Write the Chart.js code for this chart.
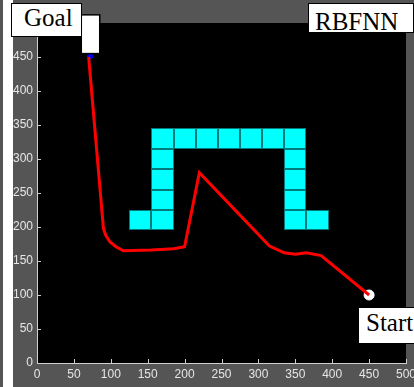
<!DOCTYPE html>
<html>
<head>
<meta charset="utf-8">
<title>RBFNN path</title>
<script src="https://cdn.jsdelivr.net/npm/chart.js@4/dist/chart.umd.min.js"></script>
<style>
  html, body { margin: 0; padding: 0; }
  body {
    width: 414px; height: 387px; overflow: hidden;
    background: linear-gradient(to right, #555 0 3px, #fff 3px 13px, #555 13px);
  }
  #wrap { position: relative; width: 414px; height: 387px; }
  #wrap canvas { position: absolute; left: 0; top: 0; }
  .tag {
    position: absolute; box-sizing: border-box;
    background: #fff; border: 1px solid #000; color: #000;
    font-family: "Liberation Serif", "Times New Roman", serif;
    font-size: 25px; line-height: 1; white-space: nowrap; overflow: hidden;
  }
</style>
</head>
<body>
<div id="wrap">
  <canvas id="pathChart" width="414" height="387"></canvas>
  <div class="tag" style="left:11px; top:3px; width:71px; height:34px; padding:1px 0 0 12px;">Goal</div>
  <div class="tag" style="left:308px; top:3px; width:106px; height:30px; padding:5px 0 0 6px;">RBFNN</div>
  <div class="tag" style="left:358px; top:307px; width:60px; height:37px; padding:2px 0 0 7px;">Start</div>
</div>

<script>
// robot path found by the network, start -> goal
const pathX = [450, 385, 365, 350, 335, 315, 220, 200, 185, 155, 117, 107, 99, 93, 90, 70];
const pathY = [100, 158, 162, 160, 162, 172, 280, 171, 168, 166, 165, 171, 178, 188, 198, 450];

const startPoint = [450, 100];
const goalPoint = [72, 451];

// goal flag rectangle: x from/to, y from/to
const goalFlagX = [60, 85];
const goalFlagY = [455, 512];

// obstacle cells (lower-left corners)
const tileX = [155, 185, 215, 245, 275, 305, 335, 155, 155, 155, 155, 335, 335, 335, 335, 125, 365];
const tileY = [315, 315, 315, 315, 315, 315, 315, 285, 255, 225, 195, 285, 255, 225, 195, 195, 195];
const tileSize = 30;

const xTickValues = [0, 50, 100, 150, 200, 250, 300, 350, 400, 450, 500];
const yTickValues = [0, 50, 100, 150, 200, 250, 300, 350, 400, 450];

const tickColor = '#e6e6e6';
const axisColor = '#d0d0d0';
const tickFont = { family: '"Liberation Sans", Arial, sans-serif', size: 12 };

const backdrop = {
  id: 'backdrop',
  beforeDraw(chart) {
    const { ctx, chartArea: a } = chart;
    ctx.save();
    ctx.fillStyle = '#000';
    ctx.fillRect(a.left, a.top, a.right - a.left, a.bottom - a.top);
    ctx.restore();
  }
};

const obstacles = {
  id: 'obstacles',
  beforeDatasetsDraw(chart) {
    const { ctx, scales: { x, y } } = chart;
    ctx.save();
    const boxes = tileX.map((x0, i) => {
      const y0 = tileY[i];
      const l = Math.round(x.getPixelForValue(x0));
      const r = Math.round(x.getPixelForValue(x0 + tileSize));
      const t = Math.round(y.getPixelForValue(y0 + tileSize));
      const b = Math.round(y.getPixelForValue(y0));
      return { l, r, t, b };
    });
    ctx.fillStyle = '#00ffff';
    boxes.forEach(bx => ctx.fillRect(bx.l, bx.t, bx.r - bx.l, bx.b - bx.t));
    ctx.strokeStyle = '#007b7b';
    ctx.lineWidth = 1;
    boxes.forEach(bx => ctx.strokeRect(bx.l + 0.5, bx.t + 0.5, bx.r - bx.l - 1, bx.b - bx.t - 1));
    ctx.restore();
  }
};

// short tick marks pointing into the plot, plus the goal flag
const overlay = {
  id: 'overlay',
  afterDraw(chart) {
    const { ctx, chartArea: a, scales: { x, y } } = chart;
    ctx.save();
    ctx.strokeStyle = axisColor;
    ctx.lineWidth = 1;
    ctx.beginPath();
    x.ticks.forEach(t => {
      const px = Math.round(x.getPixelForValue(t.value)) + 0.5;
      ctx.moveTo(px, a.bottom);
      ctx.lineTo(px, a.bottom - 4);
    });
    y.ticks.forEach(t => {
      const py = Math.round(y.getPixelForValue(t.value)) + 0.5;
      ctx.moveTo(a.left, py);
      ctx.lineTo(a.left + 4, py);
    });
    ctx.stroke();

    const l = x.getPixelForValue(goalFlagX[0]);
    const r = x.getPixelForValue(goalFlagX[1]);
    const t = y.getPixelForValue(goalFlagY[1]);
    const b = y.getPixelForValue(goalFlagY[0]);
    ctx.fillStyle = '#fff';
    ctx.fillRect(l, t, r - l, b - t);
    ctx.strokeStyle = '#000';
    ctx.lineWidth = 1.5;
    ctx.strokeRect(l, t, r - l, b - t);
    ctx.restore();
  }
};

new Chart(document.getElementById('pathChart'), {
  type: 'scatter',
  data: {
    datasets: [
      {
        data: pathX.map((v, i) => ({ x: v, y: pathY[i] })),
        showLine: true,
        borderColor: '#ff0000',
        borderWidth: 3,
        pointRadius: 0,
        tension: 0
      },
      {
        data: [{ x: startPoint[0], y: startPoint[1] }],
        pointRadius: 5,
        pointBackgroundColor: '#fff',
        pointBorderColor: '#fff'
      },
      {
        data: [{ x: goalPoint[0], y: goalPoint[1] }],
        pointRadius: 2.5,
        pointBackgroundColor: '#0000ff',
        pointBorderColor: '#0000ff'
      }
    ]
  },
  options: {
    responsive: false,
    animation: false,
    layout: { padding: { top: 23, right: 8, left: 0, bottom: 0 } },
    plugins: { legend: { display: false }, tooltip: { enabled: false } },
    scales: {
      x: {
        type: 'linear', min: 0, max: 500,
        afterBuildTicks: s => { s.ticks = xTickValues.map(v => ({ value: v })); },
        afterFit: s => { s.height = 24; s.paddingLeft = 0; s.paddingRight = 0; },
        ticks: { color: tickColor, font: tickFont, padding: 4, maxRotation: 0, autoSkip: false },
        grid: { display: false, drawTicks: false },
        border: { display: true, color: axisColor, width: 1 }
      },
      y: {
        type: 'linear', min: 0, max: 500,
        afterBuildTicks: s => { s.ticks = yTickValues.map(v => ({ value: v })); },
        afterFit: s => { s.width = 37; s.paddingTop = 0; s.paddingBottom = 0; },
        ticks: { color: tickColor, font: tickFont, padding: 4, autoSkip: false },
        grid: { display: false, drawTicks: false },
        border: { display: true, color: axisColor, width: 1 }
      }
    }
  },
  plugins: [backdrop, obstacles, overlay]
});
</script>
</body>
</html>
